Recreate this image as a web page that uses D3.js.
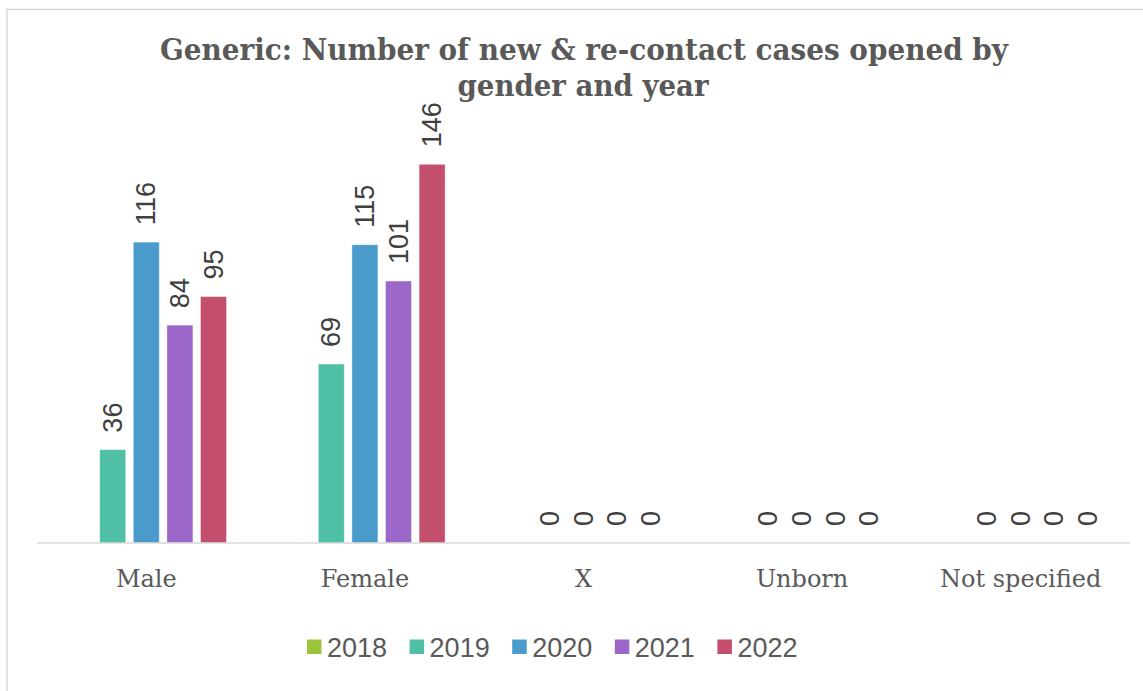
<!DOCTYPE html>
<html>
<head>
<meta charset="utf-8">
<script src="https://cdn.jsdelivr.net/npm/d3@7"></script>
<style>
  body { margin: 0; background: #fff; }
  svg { display: block; }
</style>
</head>
<body>
<div id="chart"></div>
<script>
// chart data
var categories = ["Male", "Female", "X", "Unborn", "Not specified"];
var years = ["2018", "2019", "2020", "2021", "2022"];
var colors = ["#9DC53B", "#4FBFA5", "#4A9BCC", "#9B67C8", "#C44E6E"];
// one array per year, null = no value shown
var values2018 = [null, null, null, null, null];
var values2019 = [36, 69, 0, 0, 0];
var values2020 = [116, 115, 0, 0, 0];
var values2021 = [84, 101, 0, 0, 0];
var values2022 = [95, 146, 0, 0, 0];
var seriesValues = [values2018, values2019, values2020, values2021, values2022];

var svgWidth = 1143;
var svgHeight = 691;

var margin = { top: 128, right: 13, bottom: 148, left: 37 };
var width = svgWidth - margin.left - margin.right;
var height = svgHeight - margin.top - margin.bottom;

var svg = d3.select("#chart")
  .append("svg")
  .attr("width", svgWidth)
  .attr("height", svgHeight);

// chart area border (only top and left visible in the crop)
svg.append("path")
  .attr("d", "M7,691 V9.5 H1143")
  .attr("fill", "none")
  .attr("stroke", "#D9D9D9")
  .attr("stroke-width", 1.5);

var titleFont = "Rockwell, 'DejaVu Serif', serif";
var labelFont = "'Liberation Sans Narrow', 'Arial Narrow', 'Liberation Sans', Arial, sans-serif";

// title
svg.append("text")
  .attr("x", 584).attr("y", 60)
  .attr("text-anchor", "middle")
  .attr("textLength", 848)
  .attr("lengthAdjust", "spacingAndGlyphs")
  .style("font-family", titleFont)
  .style("font-weight", "bold")
  .style("font-size", "30px")
  .attr("fill", "#595959")
  .text("Generic: Number of new & re-contact cases opened by");

svg.append("text")
  .attr("x", 583).attr("y", 96)
  .attr("text-anchor", "middle")
  .attr("textLength", 251)
  .attr("lengthAdjust", "spacingAndGlyphs")
  .style("font-family", titleFont)
  .style("font-weight", "bold")
  .style("font-size", "30px")
  .attr("fill", "#595959")
  .text("gender and year");

var chartGroup = svg.append("g")
  .attr("transform", `translate(${margin.left}, ${margin.top})`);

// scales
var x0 = d3.scaleBand()
  .domain(categories)
  .range([0, width])
  .paddingInner(0)
  .paddingOuter(0);

var x1 = d3.scaleBand()
  .domain(years)
  .range([0, x0.bandwidth() * 0.734])
  .paddingInner(0.226);

var y = d3.scaleLinear()
  .domain([0, 160])
  .range([height, 0]);

var groupOffset = (x0.bandwidth() - x1.range()[1]) / 2;

// bars + labels per series
years.forEach(function(year, i) {
  var data = categories.map(function(c, j) {
    return { cat: c, value: seriesValues[i][j] };
  });

  var g = chartGroup.append("g").attr("class", "series-" + year);

  g.selectAll("rect")
    .data(data.filter(d => d.value !== null && d.value > 0))
    .enter()
    .append("rect")
    .attr("x", d => x0(d.cat) + groupOffset + x1(year))
    .attr("y", d => y(d.value))
    .attr("width", x1.bandwidth())
    .attr("height", d => height - y(d.value))
    .attr("fill", colors[i])
    .attr("stroke", "#fff")
    .attr("stroke-opacity", 0.4)
    .attr("stroke-width", 1);

  g.selectAll("text")
    .data(data.filter(d => d.value !== null))
    .enter()
    .append("text")
    .attr("transform", function(d) {
      var cx = x0(d.cat) + groupOffset + x1(year) + x1.bandwidth() / 2;
      var cy = y(d.value) - 17;
      return `translate(${cx}, ${cy}) rotate(-90)`;
    })
    .attr("dominant-baseline", "central")
    .style("font-family", labelFont)
    .style("font-size", "27px")
    .attr("fill", "#404040")
    .text(d => d.value);
});

// x axis line
chartGroup.append("line")
  .attr("x1", 0).attr("x2", width)
  .attr("y1", height).attr("y2", height)
  .attr("stroke", "#D9D9D9")
  .attr("stroke-width", 1.5);

// category labels
chartGroup.selectAll(".cat-label")
  .data(categories)
  .enter()
  .append("text")
  .attr("class", "cat-label")
  .attr("x", d => x0(d) + x0.bandwidth() / 2)
  .attr("y", height + 44)
  .attr("text-anchor", "middle")
  .style("font-family", titleFont)
  .style("font-size", "24px")
  .attr("fill", "#595959")
  .text(d => d);

// legend
var legend = svg.append("g")
  .attr("transform", "translate(307, 647)");

var legendItems = legend.selectAll("g")
  .data(years)
  .enter()
  .append("g")
  .attr("transform", (d, i) => `translate(${i * 102.6}, 0)`);

legendItems.append("rect")
  .attr("x", 0).attr("y", -7.5)
  .attr("width", 14.5).attr("height", 14.5)
  .attr("fill", (d, i) => colors[i]);

legendItems.append("text")
  .attr("x", 20).attr("y", 9.5)
  .style("font-family", labelFont)
  .style("font-size", "27px")
  .attr("fill", "#595959")
  .text(d => d);
</script>
</body>
</html>
